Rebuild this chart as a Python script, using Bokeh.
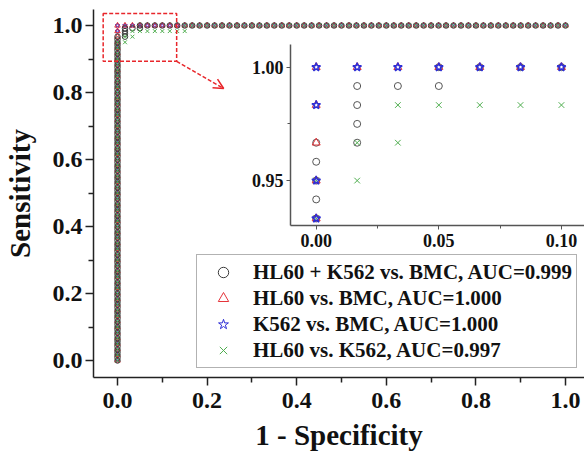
from bokeh.plotting import figure
from bokeh.models import (Range1d, FixedTicker, NumeralTickFormatter, Legend, LegendItem,
                          BoxAnnotation, Arrow, OpenHead, GridBox)
from bokeh.embed import file_html
from bokeh.resources import INLINE

FONT = "Liberation Serif"

# ---------------- data ----------------
# sensitivity grid of the 120-positive comparison (steps of 1/120)
GRID120 = [
    0.0, 0.0083, 0.0167, 0.025, 0.0333, 0.0417, 0.05, 0.0583, 0.0667, 0.075, 0.0833, 0.0917,
    0.1, 0.1083, 0.1167, 0.125, 0.1333, 0.1417, 0.15, 0.1583, 0.1667, 0.175, 0.1833, 0.1917,
    0.2, 0.2083, 0.2167, 0.225, 0.2333, 0.2417, 0.25, 0.2583, 0.2667, 0.275, 0.2833, 0.2917,
    0.3, 0.3083, 0.3167, 0.325, 0.3333, 0.3417, 0.35, 0.3583, 0.3667, 0.375, 0.3833, 0.3917,
    0.4, 0.4083, 0.4167, 0.425, 0.4333, 0.4417, 0.45, 0.4583, 0.4667, 0.475, 0.4833, 0.4917,
    0.5, 0.5083, 0.5167, 0.525, 0.5333, 0.5417, 0.55, 0.5583, 0.5667, 0.575, 0.5833, 0.5917,
    0.6, 0.6083, 0.6167, 0.625, 0.6333, 0.6417, 0.65, 0.6583, 0.6667, 0.675, 0.6833, 0.6917,
    0.7, 0.7083, 0.7167, 0.725, 0.7333, 0.7417, 0.75, 0.7583, 0.7667, 0.775, 0.7833, 0.7917,
    0.8, 0.8083, 0.8167, 0.825, 0.8333, 0.8417, 0.85, 0.8583, 0.8667, 0.875, 0.8833, 0.8917,
    0.9, 0.9083, 0.9167, 0.925, 0.9333, 0.9417, 0.95, 0.9583, 0.9667, 0.975, 0.9833, 0.9917,
    1.0,
]
# 60-sample grid (steps of 1/60) = every second value of the grid above
GRID60 = GRID120[::2]

# HL60 + K562 vs. BMC
BLACK_COL_Y = GRID120[:117]                      # points at 1-Spec = 0
BLACK_STEP_X = [0.0167, 0.0167, 0.0167, 0.0167, 0.0333, 0.05, 0.05]
BLACK_STEP_Y = [0.9667, 0.975, 0.9833, 0.9917, 0.9917, 0.9917, 1.0]
BLACK_ROW_X = GRID60[4:]                          # points at Sens = 1
# HL60 vs. BMC
RED_COL_Y = GRID60
RED_ROW_X = GRID60[1:]
# K562 vs. BMC
BLUE_COL_Y = GRID60[:58] + GRID60[59:]
BLUE_ROW_X = GRID60[1:]
# HL60 vs. K562
GREEN_COL_Y = GRID60[:58]
GREEN_STEP_X = [0.0167, 0.0167, 0.0333, 0.0333, 0.05, 0.0667, 0.0833, 0.1, 0.1167, 0.1333, 0.15, 0.15]
GREEN_STEP_Y = [0.95, 0.9667, 0.9667, 0.9833, 0.9833, 0.9833, 0.9833, 0.9833, 0.9833, 0.9833, 0.9833, 1.0]
GREEN_ROW_X = GRID60[10:]

LABELS = ["HL60 + K562 vs. BMC, AUC=0.999", "HL60 vs. BMC, AUC=1.000",
          "K562 vs. BMC, AUC=1.000", "HL60 vs. K562, AUC=0.997"]

MAIN_TICKS = [0.0, 0.2, 0.4, 0.6, 0.8, 1.0]
MAIN_MINOR = [0.1, 0.3, 0.5, 0.7, 0.9]
INSET_XTICKS = [0.0, 0.05, 0.10]
INSET_XMINOR = [0.025, 0.075]
INSET_YTICKS = [0.95, 1.00]
INSET_YMINOR = [0.975]

ZOOM_BOX = dict(left=-0.032, right=0.132, bottom=0.893, top=1.036)
ARROW_FROM = (0.132, 0.893)
ARROW_TO = (0.237, 0.812)

C_BLACK = "#3a3a3a"
C_RED = "#e5343a"
C_BLUE = "#2f2fd6"
C_GREEN = "#4fae4f"
C_DASH = "#e8262b"


def series():
    bx = [0.0] * len(BLACK_COL_Y) + BLACK_STEP_X + BLACK_ROW_X
    by = BLACK_COL_Y + BLACK_STEP_Y + [1.0] * len(BLACK_ROW_X)
    rx = [0.0] * len(RED_COL_Y) + RED_ROW_X
    ry = RED_COL_Y + [1.0] * len(RED_ROW_X)
    ux = [0.0] * len(BLUE_COL_Y) + BLUE_ROW_X
    uy = BLUE_COL_Y + [1.0] * len(BLUE_ROW_X)
    gx = [0.0] * len(GREEN_COL_Y) + GREEN_STEP_X + GREEN_ROW_X
    gy = GREEN_COL_Y + GREEN_STEP_Y + [1.0] * len(GREEN_ROW_X)
    return (bx, by), (rx, ry), (ux, uy), (gx, gy)


(BX, BY), (RX, RY), (UX, UY), (GX, GY) = series()

# shared borders (frames of plots in one layout get aligned, so keep them equal)
B_LEFT, B_RIGHT, B_TOP, B_BOTTOM = 93, 0, 9, 77

# ---------------- main figure ----------------
p = figure(width=584, height=454, output_backend="svg", toolbar_location=None,
           x_range=Range1d(-0.0536, 1.0424), y_range=Range1d(-0.0507, 1.0478),
           min_border_left=B_LEFT, min_border_right=B_RIGHT,
           min_border_top=B_TOP, min_border_bottom=B_BOTTOM)
p.outline_line_color = None
p.grid.visible = False

for ax in (p.xaxis[0], p.yaxis[0]):
    ax.axis_line_width = 1.5
    ax.axis_line_color = "#222222"
    ax.major_tick_line_color = "#222222"
    ax.major_tick_line_width = 1.5
    ax.minor_tick_line_color = "#222222"
    ax.minor_tick_line_width = 1.5
    ax.major_tick_out = 8
    ax.major_tick_in = 0
    ax.minor_tick_out = 5
    ax.minor_tick_in = 0
    ax.major_label_text_font = FONT
    ax.major_label_text_font_style = "bold"
    ax.major_label_text_font_size = "24px"
    ax.major_label_text_color = "#111111"
    ax.axis_label_text_font = FONT
    ax.axis_label_text_font_style = "bold"
    ax.axis_label_text_font_size = "29px"
    ax.axis_label_text_color = "#111111"
    ax.ticker = FixedTicker(ticks=MAIN_TICKS, minor_ticks=MAIN_MINOR)
    ax.formatter = NumeralTickFormatter(format="0.0")

p.xaxis.axis_label = "1 - Specificity"
p.yaxis.axis_label = "Sensitivity"
p.xaxis.major_label_standoff = 7
p.yaxis.major_label_standoff = 3
p.xaxis.axis_label_standoff = 8
p.yaxis.axis_label_standoff = 14

ms = 5.5
r_blue = p.scatter(UX, UY, marker="star", size=ms - 0.5, fill_color=None, line_color=C_BLUE, line_width=1)
r_red = p.scatter(RX, RY, marker="triangle", size=ms, fill_color=None, line_color=C_RED, line_width=1)
r_black = p.scatter(BX, BY, marker="circle", size=ms, fill_color=None, line_color=C_BLACK, line_width=1)
r_green = p.scatter(GX, GY, marker="x", size=ms, fill_color=None, line_color=C_GREEN, line_width=1)

p.add_layout(BoxAnnotation(**ZOOM_BOX, fill_alpha=0, line_color=C_DASH, line_alpha=1.0,
                           line_dash="4 2", line_width=1.5))
p.add_layout(Arrow(end=OpenHead(size=10, line_color=C_DASH, line_width=1.5),
                   x_start=ARROW_FROM[0], y_start=ARROW_FROM[1],
                   x_end=ARROW_TO[0], y_end=ARROW_TO[1],
                   line_color=C_DASH, line_dash="4 2", line_width=1.5))

legend = Legend(items=[LegendItem(label=LABELS[0], renderers=[r_black]),
                       LegendItem(label=LABELS[1], renderers=[r_red]),
                       LegendItem(label=LABELS[2], renderers=[r_blue]),
                       LegendItem(label=LABELS[3], renderers=[r_green])],
                location=(103, 9), orientation="vertical")
legend.label_text_font = FONT
legend.label_text_font_style = "bold"
legend.label_text_font_size = "21px"
legend.label_text_color = "#111111"
legend.glyph_width = 44
legend.glyph_height = 26
legend.label_height = 26
legend.spacing = 0
legend.padding = 4
legend.margin = 0
legend.label_standoff = 8
legend.border_line_color = "#666666"
legend.border_line_width = 1
legend.background_fill_color = "white"
legend.background_fill_alpha = 1
p.add_layout(legend)

# ---------------- inset ----------------
ins = figure(width=387, height=267, output_backend="svg", toolbar_location=None,
             x_range=Range1d(-0.01048, 0.1094), y_range=Range1d(0.9302, 1.0100),
             min_border_left=B_LEFT, min_border_right=B_RIGHT,
             min_border_top=B_TOP, min_border_bottom=B_BOTTOM)
ins.outline_line_color = None
ins.grid.visible = False
ins.background_fill_alpha = 0
ins.border_fill_alpha = 0
for ax in (ins.xaxis[0], ins.yaxis[0]):
    ax.axis_line_width = 1.5
    ax.axis_line_color = "#555555"
    ax.major_tick_line_color = "#555555"
    ax.minor_tick_line_color = "#555555"
    ax.major_tick_out = 4
    ax.major_tick_in = 0
    ax.minor_tick_out = 3
    ax.minor_tick_in = 0
    ax.major_label_text_font = FONT
    ax.major_label_text_font_style = "bold"
    ax.major_label_text_font_size = "18px"
    ax.major_label_text_color = "#111111"
    ax.formatter = NumeralTickFormatter(format="0.00")
ins.xaxis.ticker = FixedTicker(ticks=INSET_XTICKS, minor_ticks=INSET_XMINOR)
ins.yaxis.ticker = FixedTicker(ticks=INSET_YTICKS, minor_ticks=INSET_YMINOR)
ins.xaxis.major_label_standoff = 4
ins.yaxis.major_label_standoff = 3

ins.scatter(BX, BY, marker="circle", size=7, fill_color=None, line_color="#555555", line_width=1)
ins.scatter(GX, GY, marker="x", size=8, fill_color=None, line_color=C_GREEN, line_width=1)
ins.scatter(RX, RY, marker="triangle", size=8, fill_color=None, line_color=C_RED, line_width=1)
ins.scatter(UX, UY, marker="star", size=9, fill_color=None, line_color=C_BLUE, line_width=1.5)

# overlapping grid cells: main plot spans everything, inset sits in the middle cell
lay = GridBox(children=[(p, 0, 0, 3, 2), (ins, 1, 1, 1, 1)],
              rows=["35px", "267px", "152px"], cols=["197px", "387px"], spacing=0)
open("out.html", "w").write(file_html(lay, INLINE))
